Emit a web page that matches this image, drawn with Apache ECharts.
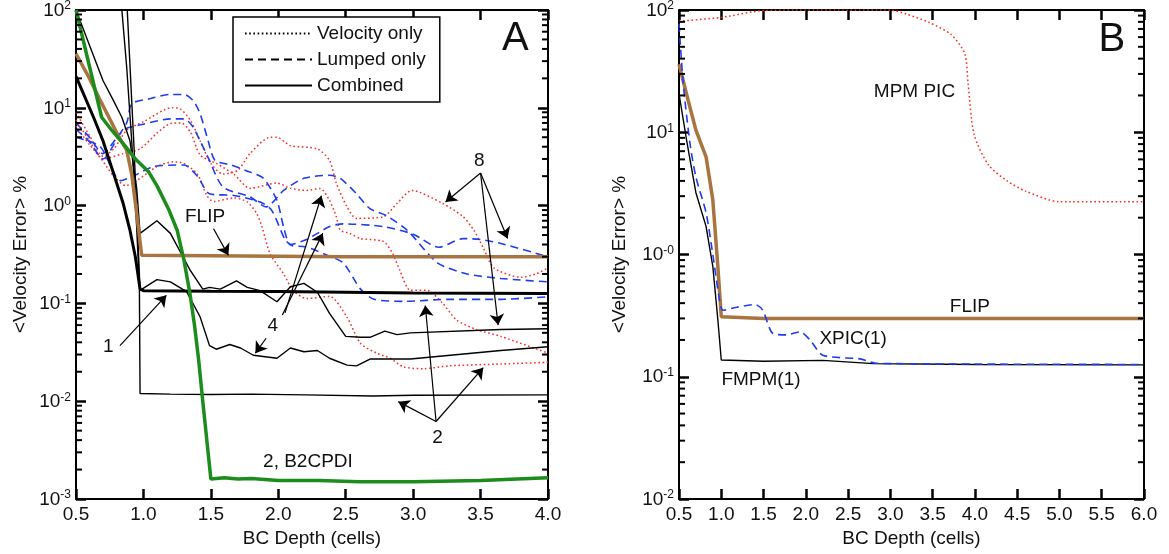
<!DOCTYPE html>
<html><head><meta charset="utf-8">
<script src="https://cdn.jsdelivr.net/npm/echarts@6/dist/echarts.min.js"></script>
<style>html,body{margin:0;padding:0;background:#fff}#c{width:1169px;height:554px}</style>
</head><body><div id="c"></div>
<script>
// ---------- Panel A data (x = BC depth in cells, y = <velocity error> %) ----------
const velOnly2 = [[0.5,6.5],[0.6,4.2],[0.68,3.1],[0.78,2.0],[0.87,1.6],[0.95,1.8],[1.1,2.5],[1.22,2.8],[1.3,2.7],[1.4,2.1],[1.47,1.27],[1.52,1.1],[1.67,1.2],[1.77,1.09],[1.84,0.83],[1.88,0.6],[1.94,0.32],[2.04,0.2],[2.11,0.136],[2.21,0.112],[2.38,0.118],[2.51,0.072],[2.61,0.039],[2.73,0.031],[2.83,0.0275],[2.93,0.0224],[3.08,0.0215],[3.27,0.023],[3.65,0.024],[4.0,0.025]];
const velOnly4 = [[0.5,7.5],[0.6,4.6],[0.7,3.0],[0.85,3.4],[0.975,3.8],[1.1,5.5],[1.2,6.9],[1.28,7.0],[1.35,5.6],[1.42,3.3],[1.54,2.7],[1.67,2.1],[1.79,1.5],[1.99,1.7],[2.09,1.5],[2.21,1.43],[2.31,1.5],[2.38,1.13],[2.43,0.77],[2.46,0.56],[2.53,0.52],[2.61,0.46],[2.78,0.43],[2.85,0.32],[2.9,0.22],[2.98,0.136],[3.1,0.136],[3.22,0.1],[3.32,0.068],[3.47,0.054],[3.65,0.046],[4.0,0.031]];
const velOnly8 = [[0.5,9],[0.6,5.2],[0.7,3.2],[0.78,3.8],[0.876,5.9],[1.0,7.2],[1.21,10],[1.27,9.8],[1.35,7.4],[1.42,4.6],[1.5,2.7],[1.59,2.1],[1.7,2.3],[1.79,3.4],[1.94,5.0],[1.99,5.0],[2.09,4.1],[2.29,3.8],[2.38,2.9],[2.43,1.7],[2.51,0.97],[2.58,0.74],[2.78,0.77],[2.88,1.05],[2.99,1.43],[3.22,1.05],[3.37,0.77],[3.45,0.56],[3.52,0.37],[3.6,0.23],[3.8,0.185],[3.91,0.2],[4.0,0.23]];

const lumped2 = [[0.5,5.0],[0.68,4.0],[0.83,1.8],[0.925,2.0],[1.07,2.5],[1.3,2.6],[1.4,2.0],[1.49,1.32],[1.67,1.27],[1.865,1.09],[1.95,0.9],[2.05,0.45],[2.1,0.39],[2.2,0.38],[2.34,0.32],[2.48,0.26],[2.61,0.14],[2.71,0.11],[2.94,0.105],[3.25,0.11],[3.65,0.11],[4.0,0.117]];
const lumped4 = [[0.5,6],[0.6,4.5],[0.7,3.0],[0.85,5.9],[1.0,6.8],[1.2,7.7],[1.3,7.7],[1.36,6.6],[1.42,4.6],[1.48,3.1],[1.59,1.55],[1.79,1.23],[1.91,0.97],[2.04,1.43],[2.19,1.9],[2.38,2.04],[2.46,1.9],[2.58,1.32],[2.68,0.93],[2.8,0.79],[2.93,0.6],[2.98,0.52],[3.18,0.26],[3.4,0.2],[3.65,0.18],[4.0,0.166]];
const lumped8 = [[0.5,7],[0.6,5],[0.7,3.4],[0.78,4.5],[0.876,7],[0.913,11],[1.036,12.3],[1.2,13.7],[1.3,13.7],[1.37,11.8],[1.42,8.7],[1.48,4.6],[1.53,2.9],[1.65,2.6],[1.79,2.2],[1.89,1.9],[1.99,1.13],[2.04,0.6],[2.09,0.40],[2.21,0.45],[2.38,0.61],[2.48,0.65],[2.78,0.61],[3.0,0.51],[3.19,0.375],[3.37,0.46],[3.5,0.45],[3.65,0.41],[4.0,0.30]];

const combined1 = [[0.5,21],[0.63,8],[0.7,4.6],[0.78,2.1],[0.85,1.05],[0.9,0.56],[0.94,0.3],[0.975,0.14],[1.0,0.135],[1.5,0.133],[2.0,0.132],[2.5,0.13],[3.0,0.128],[3.5,0.127],[4.0,0.126]];
const combined2 = [[0.84,100],[0.876,26],[0.913,4.6],[0.95,0.6],[0.97,0.15],[0.975,0.012],[1.2,0.0118],[1.5,0.0117],[1.8,0.0118],[2.2,0.0116],[2.7,0.0113],[3.0,0.0115],[4.0,0.0116]];
const combined4 = [[0.88,100],[0.93,4],[0.975,0.136],[1.1,0.175],[1.2,0.166],[1.32,0.132],[1.42,0.073],[1.49,0.037],[1.54,0.034],[1.64,0.038],[1.72,0.035],[1.815,0.0295],[1.99,0.0275],[2.09,0.035],[2.19,0.032],[2.29,0.033],[2.38,0.0275],[2.51,0.0234],[2.58,0.023],[2.68,0.027],[2.98,0.027],[3.65,0.033],[4.0,0.036]];
const combined8 = [[0.5,100],[0.7,19],[0.777,11.9],[0.84,8],[0.9,4.6],[0.95,1.5],[0.975,0.52],[1.1,0.70],[1.2,0.52],[1.345,0.22],[1.44,0.14],[1.49,0.146],[1.57,0.14],[1.69,0.17],[1.77,0.146],[1.865,0.135],[1.99,0.104],[2.09,0.148],[2.19,0.16],[2.29,0.13],[2.38,0.079],[2.5,0.046],[2.61,0.045],[2.68,0.045],[2.79,0.052],[2.88,0.048],[2.98,0.05],[3.65,0.054],[4.0,0.055]];

const flipA = [[0.5,35.7],[0.6,20],[0.68,11.9],[0.81,5.3],[0.876,3.7],[0.913,2.1],[0.95,0.83],[0.987,0.31],[1.0,0.3],[2.5,0.3],[4.0,0.3]];
const b2cpdi = [[0.5,100],[0.69,8.0],[0.765,5.9],[0.85,4.3],[0.94,3.0],[1.04,2.2],[1.1,1.6],[1.185,0.93],[1.25,0.56],[1.3,0.28],[1.345,0.126],[1.38,0.058],[1.41,0.026],[1.44,0.010],[1.47,0.004],[1.5,0.0016],[1.6,0.00165],[1.7,0.0016],[1.8,0.00162],[2.0,0.00155],[2.3,0.00155],[2.6,0.0015],[3.0,0.0015],[3.5,0.00155],[4.0,0.00165]];

// ---------- Panel B data ----------
const mpmPic = [[0.5,81],[1.0,87],[1.5,99],[2.0,100],[2.5,100],[3.0,100],[3.2,92],[3.46,79],[3.72,63],[3.88,44],[3.92,24.7],[3.99,9.6],[4.16,5.4],[4.38,4.0],[4.6,3.3],[5.0,2.7],[6.0,2.7]];
const flipB = [[0.5,36],[0.61,18],[0.7,10.4],[0.82,6.3],[0.9,2.8],[0.96,0.79],[1.0,0.31],[1.5,0.30],[6.0,0.30]];
const fmpm1 = [[0.5,20.7],[0.59,8.6],[0.7,3.2],[0.82,1.7],[0.9,0.8],[0.96,0.29],[1.0,0.137],[1.5,0.134],[2.2,0.136],[2.8,0.128],[4.0,0.126],[6.0,0.125]];
const xpic1 = [[0.5,77],[0.55,25],[0.63,8.1],[0.7,4.3],[0.82,2.2],[0.9,1.0],[0.98,0.42],[1.02,0.35],[1.18,0.37],[1.4,0.39],[1.49,0.35],[1.61,0.226],[1.77,0.22],[1.93,0.233],[2.05,0.2],[2.2,0.15],[2.64,0.14],[2.83,0.129],[4.0,0.127],[6.0,0.126]];

// ---------- Axis / labels ----------
const xTitle = 'BC Depth (cells)';
const yTitle = '<Velocity Error> %';
const legendNames = ['Velocity only', 'Lumped only', 'Combined'];
const yMajorA = [0.001, 0.01, 0.1, 1, 10, 100];
const yMajorB = [0.01, 0.1, 1, 10, 100];

const textsA = [['FLIP',1.457,0.77],['1',0.74,0.036],['4',1.96,0.059],['8',3.49,2.9],['2',3.18,0.0042],['2, B2CPDI',2.22,0.0024]];
const panelA = ['A',3.757,50];
const textsB = [['MPM PIC',3.285,21.6],['FLIP',3.94,0.373],['XPIC(1)',2.56,0.206],['FMPM(1)',1.47,0.095]];
const panelB = ['B',5.62,57];
const arrowsA = [[1.52,0.58,1.63,0.31],[0.826,0.037,1.17,0.121],[2.03,0.076,2.33,0.52],[2.05,0.08,2.32,1.26],[1.91,0.044,1.83,0.031],[3.5,2.15,3.24,1.09],[3.5,2.15,3.7,0.46],[3.5,2.15,3.63,0.06],[3.17,0.0062,2.89,0.0099],[3.17,0.0062,3.09,0.095],[3.17,0.0062,3.52,0.022]];

const FONT = "'Liberation Sans', Arial, Helvetica, sans-serif";
const RED = '#ff2a2a', BLUE = '#1f3cf0', BROWN = '#a8743f', GREEN = '#1c8c1c', BLACK = '#000000';
const DOT = [1.6, 2.6], DASH = [8, 5];
const GRIDS = [{ left: 76, top: 10, width: 472, height: 489 }, { left: 679, top: 10, width: 465, height: 489 }];

function minorVals(lo, hi) {
  const out = [];
  for (let e = lo; e < hi; e++) for (let k = 2; k <= 9; k++) out.push(k * Math.pow(10, e));
  return out;
}

function ln(name, data, color, width, type, g, z, smooth) {
  return { type: 'line', name, data, xAxisIndex: g * 2, yAxisIndex: g * 2, symbol: 'none', smooth: smooth || false,
    lineStyle: { color, width, type, cap: 'butt' }, itemStyle: { color }, animation: false, silent: true, z: z || 2, clip: true };
}

function supLabel(v, weirdZero) {
  const e = Math.round(Math.log10(v));
  const s = (e === 0 && weirdZero) ? '-0' : String(e);
  return '{b|10}{s|' + s + '}';
}
const rich = { b: { fontSize: 19, fontFamily: FONT, color: '#111', lineHeight: 20, verticalAlign: 'bottom' },
               s: { fontSize: 12, fontFamily: FONT, color: '#111', lineHeight: 12, verticalAlign: 'top', padding: [0, 0, 6, 0] } };

const TICK = { show: true, inside: true, length: 10, lineStyle: { color: '#000', width: 2.5 } };
function xAxes(g, max) {
  const mk = (pos, lbl) => {
    const a = { gridIndex: g, type: 'value', min: 0.5, max, interval: 0.5, position: pos,
      splitLine: { show: false },
      axisLine: { show: true, onZero: false, lineStyle: { color: '#000', width: 2 } },
      axisTick: TICK,
      axisLabel: lbl ? { formatter: v => v.toFixed(1), fontSize: 19, color: '#111', fontFamily: FONT, margin: 6 } : { show: false } };
    if (lbl) Object.assign(a, { name: xTitle, nameLocation: 'middle', nameGap: 30, nameTextStyle: { fontSize: 19, color: '#111', fontFamily: FONT } });
    return a;
  };
  return [mk('bottom', true), mk('top', false)];
}
function yAxes(g, min, max, majors, weird, nameGap) {
  const mk = (pos, lbl) => {
    const a = { gridIndex: g, type: 'log', logBase: 10, min, max, position: pos,
      splitLine: { show: false },
      axisLine: { show: true, onZero: false, lineStyle: { color: '#000', width: 2 } },
      axisTick: TICK,
      axisLabel: lbl ? { customValues: majors, formatter: v => supLabel(v, weird), rich, margin: 5 } : { show: false } };
    if (lbl) Object.assign(a, { name: yTitle, nameLocation: 'middle', nameGap, nameRotate: 90, nameTextStyle: { fontSize: 19, color: '#111', fontFamily: FONT } });
    return a;
  };
  return [mk('left', true), mk('right', false)];
}

// minor y ticks (2..9 of each decade), inward on both sides, placed through the axis scale
function minorTickSeries(g, lo, hi) {
  const data = minorVals(lo, hi).map(v => [1, v]);
  return { type: 'custom', name: 'minor' + g, xAxisIndex: g * 2, yAxisIndex: g * 2, data,
    dimensions: ['x', 'y'], encode: { x: 0, y: 1 },
    silent: true, animation: false, clip: false, z: 10,
    renderItem: (params, api) => {
      const cs = params.coordSys;
      const p = api.coord([api.value(0), api.value(1)]);
      const l = cs.x, r = cs.x + cs.width;
      return { type: 'group', children: [
        { type: 'rect', shape: { x: l, y: p[1] - 1, width: 6, height: 2 }, style: { fill: '#000' } },
        { type: 'rect', shape: { x: r - 6, y: p[1] - 1, width: 6, height: 2 }, style: { fill: '#000' } } ] };
    } };
}

function annot(g, texts, big, arrows) {
  const tdata = texts.map(t => ({ name: t[0], coord: [t[1], t[2]] }));
  tdata.push({ name: big[0], coord: [big[1], big[2]], label: { fontSize: 40 } });
  const s = { type: 'line', name: 'annot' + g, data: [], xAxisIndex: g * 2, yAxisIndex: g * 2, symbol: 'none', silent: true, animation: false, z: 5,
    itemStyle: { color: BLACK }, lineStyle: { color: BLACK },
    markPoint: { symbol: 'circle', symbolSize: 0, silent: true, animation: false,
      label: { show: true, position: 'inside', color: '#111', fontSize: 19, fontFamily: FONT, formatter: p => p.name },
      data: tdata } };
  if (arrows) {
    s.markLine = { silent: true, animation: false, symbol: ['none', 'arrow'], symbolSize: 11, precision: 6,
      itemStyle: { color: BLACK },
      lineStyle: { color: BLACK, width: 1.2, type: 'solid' }, label: { show: false },
      emphasis: { disabled: true },
      data: arrows.map(a => [{ coord: [a[0], a[1]] }, { coord: [a[2], a[3]] }]) };
  }
  return s;
}

const SM = 0.25;
const series = [
  ln(legendNames[0], [], BLACK, 1.5, DOT, 0),
  ln(legendNames[1], [], BLACK, 1.5, DASH, 0),
  ln(legendNames[2], [], BLACK, 1.5, 'solid', 0),
  ln('vel2', velOnly2, RED, 1.5, DOT, 0, 2, SM),
  ln('vel4', velOnly4, RED, 1.5, DOT, 0, 2, SM),
  ln('vel8', velOnly8, RED, 1.5, DOT, 0, 2, SM),
  ln('lump2', lumped2, BLUE, 1.6, DASH, 0, 2, SM),
  ln('lump4', lumped4, BLUE, 1.6, DASH, 0, 2, SM),
  ln('lump8', lumped8, BLUE, 1.6, DASH, 0, 2, SM),
  ln('comb2', combined2, BLACK, 1.4, 'solid', 0),
  ln('comb4', combined4, BLACK, 1.4, 'solid', 0),
  ln('comb8', combined8, BLACK, 1.4, 'solid', 0),
  ln('comb1', combined1, BLACK, 3, 'solid', 0, 3),
  ln('flipA', flipA, BROWN, 3.5, 'solid', 0, 3),
  ln('b2cpdi', b2cpdi, GREEN, 3.5, 'solid', 0, 3),
  annot(0, textsA, panelA, arrowsA),
  minorTickSeries(0, -3, 2),
  ln('mpmPic', mpmPic, RED, 1.5, DOT, 1, 2, SM),
  ln('flipB', flipB, BROWN, 3.5, 'solid', 1, 3),
  ln('fmpm1', fmpm1, BLACK, 1.4, 'solid', 1),
  ln('xpic1', xpic1, BLUE, 1.6, DASH, 1, 4, SM),
  annot(1, textsB, panelB, null),
  minorTickSeries(1, -2, 2)
];

const chart = echarts.init(document.getElementById('c'), null, { renderer: 'canvas' });
chart.setOption({
  backgroundColor: '#fff',
  animation: false,
  textStyle: { fontFamily: FONT },
  grid: GRIDS,
  legend: { data: legendNames, orient: 'vertical', left: 233, top: 17, itemWidth: 67, itemHeight: 14, itemGap: 7,
    padding: [7, 14, 7, 11], borderColor: BLACK, borderWidth: 1.5, backgroundColor: '#fff', selectedMode: false,
    itemStyle: { opacity: 0, borderWidth: 0 },
    textStyle: { fontSize: 19, color: '#111', fontFamily: FONT } },
  xAxis: xAxes(0, 4).concat(xAxes(1, 6)),
  yAxis: yAxes(0, 0.001, 100, yMajorA, false, 46).concat(yAxes(1, 0.01, 100, yMajorB, true, 50)),
  series
});
</script>
</body></html>
